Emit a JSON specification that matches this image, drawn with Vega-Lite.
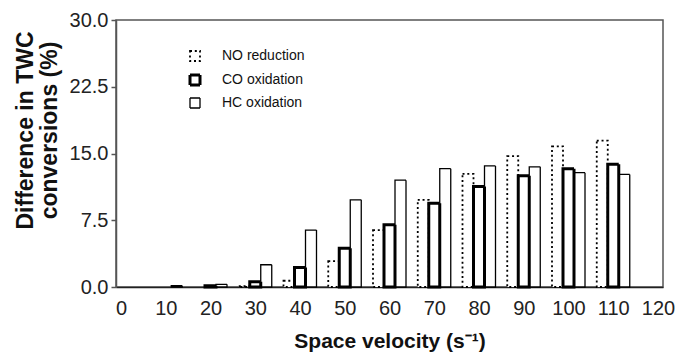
{
  "$schema": "https://vega.github.io/schema/vega-lite/v6.json",
  "width": 547,
  "height": 267,
  "autosize": {"type": "none"},
  "padding": {"left": 116, "top": 20, "right": 20, "bottom": 72},
  "background": "white",
  "config": {
    "font": "Liberation Sans",
    "view": {"stroke": "#555555", "strokeWidth": 1.5},
    "axis": {"grid": false}
  },
  "data": {
    "values": [
      {"sv": 10, "series": "HC oxidation", "diff": 0.15},
      {"sv": 20, "series": "CO oxidation", "diff": 0.15},
      {"sv": 20, "series": "HC oxidation", "diff": 0.3},
      {"sv": 30, "series": "NO reduction", "diff": 0.1},
      {"sv": 30, "series": "CO oxidation", "diff": 0.6},
      {"sv": 30, "series": "HC oxidation", "diff": 2.5},
      {"sv": 40, "series": "NO reduction", "diff": 0.7},
      {"sv": 40, "series": "CO oxidation", "diff": 2.2},
      {"sv": 40, "series": "HC oxidation", "diff": 6.4},
      {"sv": 50, "series": "NO reduction", "diff": 2.9},
      {"sv": 50, "series": "CO oxidation", "diff": 4.35},
      {"sv": 50, "series": "HC oxidation", "diff": 9.8},
      {"sv": 60, "series": "NO reduction", "diff": 6.4},
      {"sv": 60, "series": "CO oxidation", "diff": 7.0},
      {"sv": 60, "series": "HC oxidation", "diff": 12.0},
      {"sv": 70, "series": "NO reduction", "diff": 9.8},
      {"sv": 70, "series": "CO oxidation", "diff": 9.4},
      {"sv": 70, "series": "HC oxidation", "diff": 13.3},
      {"sv": 80, "series": "NO reduction", "diff": 12.7},
      {"sv": 80, "series": "CO oxidation", "diff": 11.3},
      {"sv": 80, "series": "HC oxidation", "diff": 13.6},
      {"sv": 90, "series": "NO reduction", "diff": 14.7},
      {"sv": 90, "series": "CO oxidation", "diff": 12.5},
      {"sv": 90, "series": "HC oxidation", "diff": 13.5},
      {"sv": 100, "series": "NO reduction", "diff": 15.8},
      {"sv": 100, "series": "CO oxidation", "diff": 13.3},
      {"sv": 100, "series": "HC oxidation", "diff": 12.85},
      {"sv": 110, "series": "NO reduction", "diff": 16.45},
      {"sv": 110, "series": "CO oxidation", "diff": 13.8},
      {"sv": 110, "series": "HC oxidation", "diff": 12.65}
    ]
  },
  "encoding": {
    "x": {
      "field": "sv",
      "type": "quantitative",
      "scale": {"domain": [0, 120], "nice": false},
      "axis": {
        "values": [0, 10, 20, 30, 40, 50, 60, 70, 80, 90, 100, 110, 120],
        "ticks": false,
        "tickSize": 0,
        "domainColor": "#222222",
        "domainWidth": 1.5,
        "labelFontSize": 20,
        "labelColor": "#222222",
        "labelPadding": 11,
        "labelFlush": false,
        "title": "Space velocity (s⁻¹)",
        "titleFontSize": 21,
        "titleFontWeight": "bold",
        "titleColor": "#111111",
        "titlePadding": 12
      }
    },
    "y": {
      "field": "diff",
      "type": "quantitative",
      "scale": {"domain": [0, 30], "nice": false},
      "axis": {
        "values": [0, 7.5, 15, 22.5, 30],
        "format": ".1f",
        "tickSize": 5,
        "tickColor": "#555555",
        "tickWidth": 1.5,
        "domainColor": "#555555",
        "domainWidth": 1.5,
        "labelFontSize": 20,
        "labelColor": "#222222",
        "labelPadding": 3,
        "title": ["Difference in TWC", "conversions (%)"],
        "titleFontSize": 23,
        "titleFontWeight": "bold",
        "titleColor": "#111111",
        "titleLineHeight": 24,
        "titlePadding": 8,
        "titleY": 110
      }
    },
    "strokeDash": {
      "field": "series",
      "type": "nominal",
      "scale": {
        "domain": ["NO reduction", "CO oxidation", "HC oxidation"],
        "range": [[2, 2.8], [1, 0], [1, 0]]
      },
      "legend": {
        "title": null,
        "orient": "none",
        "legendX": 72,
        "legendY": 29,
        "padding": 0,
        "symbolType": "square",
        "symbolSize": 100,
        "labelFontSize": 14,
        "labelColor": "#111111",
        "labelOffset": 20,
        "rowPadding": 4,
        "encode": {
          "symbols": {"update": {"stroke": {"value": "black"}, "fill": {"value": "white"}, "opacity": {"value": 1}}}
        }
      }
    },
    "strokeWidth": {
      "field": "series",
      "type": "nominal",
      "scale": {
        "type": "ordinal",
        "domain": ["NO reduction", "CO oxidation", "HC oxidation"],
        "range": [1.8, 3, 1.3]
      },
      "legend": {
        "title": null,
        "orient": "none",
        "legendX": 72,
        "legendY": 29,
        "padding": 0,
        "symbolType": "square",
        "symbolSize": 100,
        "labelFontSize": 14,
        "labelColor": "#111111",
        "labelOffset": 20,
        "rowPadding": 4,
        "encode": {
          "symbols": {"update": {"stroke": {"value": "black"}, "fill": {"value": "white"}, "opacity": {"value": 1}}}
        }
      }
    }
  },
  "layer": [
    {
      "transform": [{"filter": "datum.series === 'NO reduction'"}],
      "mark": {"type": "bar", "width": 11, "xOffset": -11, "fill": "white", "stroke": "black"}
    },
    {
      "transform": [{"filter": "datum.series === 'HC oxidation'"}],
      "mark": {"type": "bar", "width": 11, "xOffset": 11, "fill": "white", "stroke": "black"}
    },
    {
      "transform": [{"filter": "datum.series === 'CO oxidation'"}],
      "mark": {"type": "bar", "width": 11, "xOffset": 0, "fill": "white", "stroke": "black"}
    }
  ]
}
